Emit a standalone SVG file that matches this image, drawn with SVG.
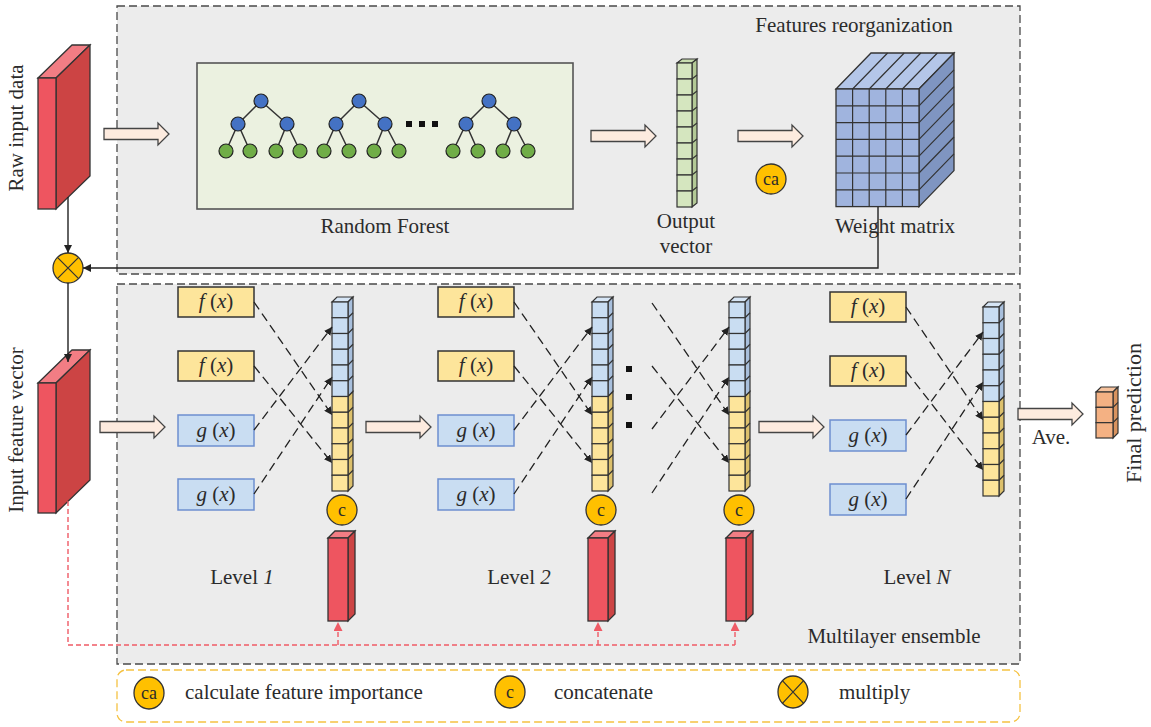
<svg xmlns="http://www.w3.org/2000/svg" xmlns:xlink="http://www.w3.org/1999/xlink" width="1151" height="727" viewBox="0 0 1151 727">
<style>
text{font-family:"Liberation Serif","DejaVu Serif",serif;fill:#2b2b2b;font-size:21px}
.mid{text-anchor:middle}
.i{font-style:italic}
.panel{fill:#ececec;stroke:#4a4a4a;stroke-width:1.3;stroke-dasharray:8 4}
.legend{fill:none;stroke:#f5c242;stroke-width:1.3;stroke-dasharray:8 4}
.barrow{fill:#fdebdf;stroke:#444;stroke-width:1.3}
.ybox{fill:#fde59b;stroke:#333;stroke-width:1.5}
.bbox{fill:#c9ddf2;stroke:#6d8fcf;stroke-width:1.5}
.dash{fill:none;stroke:#222;stroke-width:1.3;stroke-dasharray:9 5}
.solid{fill:none;stroke:#222;stroke-width:1.4}
.rdash{fill:none;stroke:#ef5b66;stroke-width:1.4;stroke-dasharray:5 3}
.ed{stroke:#333;stroke-width:1.5}
.bn{fill:#4472c4;stroke:#222;stroke-width:1.2}
.gn{fill:#70ad47;stroke:#222;stroke-width:1.2}
.gold{fill:#ffc000;stroke:#333;stroke-width:1.3}
.cb{fill:#c9ddf2;stroke:#333;stroke-width:1.2}
.cy{fill:#fde59b;stroke:#333;stroke-width:1.2}
.cl{stroke:#333;stroke-width:1.2}
.rf{fill:#ee5560;stroke:#333;stroke-width:1.3}
.rt{fill:#f27d84;stroke:#333;stroke-width:1.3}
.rs{fill:#cc4444;stroke:#333;stroke-width:1.3}
.fx{font-size:21px}
.sm{font-size:18px}
</style>
<defs>
<marker id="ah" viewBox="0 0 10 10" refX="10" refY="5" markerWidth="8" markerHeight="8" markerUnits="userSpaceOnUse" orient="auto"><path d="M0,0 L10,5 L0,10 Z" fill="#222"/></marker>
<marker id="rah" viewBox="0 0 10 10" refX="10" refY="5" markerWidth="9" markerHeight="9" markerUnits="userSpaceOnUse" orient="auto"><path d="M0,0 L10,5 L0,10 Z" fill="#ef5b66"/></marker>
<g id="colvec">
<polygon points="0,0 5,-5 21,-5 16,0" fill="#d6e5f5" stroke="#333" stroke-width="1.2"/>
<polygon points="16,0 21,-5 21,89.5 16,94.5" fill="#a8bfdc" stroke="#333" stroke-width="1.2"/>
<polygon points="16,94.5 21,89.5 21,184 16,189" fill="#dcc06c" stroke="#333" stroke-width="1.2"/>
<rect class="cb" x="0" y="0" width="16" height="15.75"/>
<rect class="cb" x="0" y="15.75" width="16" height="15.75"/>
<rect class="cb" x="0" y="31.5" width="16" height="15.75"/>
<rect class="cb" x="0" y="47.25" width="16" height="15.75"/>
<rect class="cb" x="0" y="63" width="16" height="15.75"/>
<rect class="cb" x="0" y="78.75" width="16" height="15.75"/>
<rect class="cy" x="0" y="94.5" width="16" height="15.75"/>
<rect class="cy" x="0" y="110.25" width="16" height="15.75"/>
<rect class="cy" x="0" y="126" width="16" height="15.75"/>
<rect class="cy" x="0" y="141.75" width="16" height="15.75"/>
<rect class="cy" x="0" y="157.5" width="16" height="15.75"/>
<rect class="cy" x="0" y="173.25" width="16" height="15.75"/>
<path class="cl" d="M16,15.75 l5,-5 M16,31.5 l5,-5 M16,47.25 l5,-5 M16,63 l5,-5 M16,78.75 l5,-5 M16,110.25 l5,-5 M16,126 l5,-5 M16,141.75 l5,-5 M16,157.5 l5,-5 M16,173.25 l5,-5"/>
</g>
<g id="redbar">
<polygon class="rt" points="0,0 7,-7 27,-7 20,0"/>
<polygon class="rs" points="20,0 27,-7 27,76 20,83"/>
<rect class="rf" x="0" y="0" width="20" height="83"/>
</g>
<path id="blk" d="M0,-5.5 H54 V-11 L65,0 L54,11 V5.5 H0 Z"/>
</defs>

<rect width="1151" height="727" fill="#ffffff"/>

<g id="panel-top"><rect class="panel" x="117" y="6" width="903" height="268"/>
<text class="mid" x="854" y="32">Features reorganization</text></g>
<g id="panel-bottom"><rect class="panel" x="117" y="284" width="903" height="380"/>
<text class="mid" x="894" y="643">Multilayer ensemble</text></g>

<g id="raw-input">
<polygon class="rt" points="38,78 72,45 90,45 56,78"/>
<polygon class="rs" points="56,78 90,45 90,176 56,209"/>
<rect class="rf" x="38" y="78" width="18" height="131"/>
<text class="mid" transform="translate(23,128) rotate(-90)">Raw input data</text>
</g>

<g id="random-forest">
<rect x="197" y="63" width="376" height="146" fill="#ebf1e0" stroke="#555" stroke-width="1.6"/>
<path class="ed" d="M261,101 L238,124 M261,101 L287,124 M238,124 L226,151 M238,124 L250,151 M287,124 L276,151 M287,124 L300,151
M359,101 L336,124 M359,101 L385,124 M336,124 L324,151 M336,124 L349,151 M385,124 L374,151 M385,124 L399,151
M489,101 L466,124 M489,101 L514,124 M466,124 L453,151 M466,124 L478,151 M514,124 L503,151 M514,124 L528,151"/>
<circle class="bn" cx="261" cy="101" r="7"/><circle class="bn" cx="238" cy="124" r="7"/><circle class="bn" cx="287" cy="124" r="7"/>
<circle class="gn" cx="226" cy="151" r="7"/><circle class="gn" cx="250" cy="151" r="7"/><circle class="gn" cx="276" cy="151" r="7"/><circle class="gn" cx="300" cy="151" r="7"/>
<circle class="bn" cx="359" cy="101" r="7"/><circle class="bn" cx="336" cy="124" r="7"/><circle class="bn" cx="385" cy="124" r="7"/>
<circle class="gn" cx="324" cy="151" r="7"/><circle class="gn" cx="349" cy="151" r="7"/><circle class="gn" cx="374" cy="151" r="7"/><circle class="gn" cx="399" cy="151" r="7"/>
<circle class="bn" cx="489" cy="101" r="7"/><circle class="bn" cx="466" cy="124" r="7"/><circle class="bn" cx="514" cy="124" r="7"/>
<circle class="gn" cx="453" cy="151" r="7"/><circle class="gn" cx="478" cy="151" r="7"/><circle class="gn" cx="503" cy="151" r="7"/><circle class="gn" cx="528" cy="151" r="7"/>
<rect x="406" y="121" width="6" height="6" fill="#111"/><rect x="419" y="121" width="6" height="6" fill="#111"/><rect x="432" y="121" width="6" height="6" fill="#111"/>
<text class="mid" x="385" y="233">Random Forest</text>
</g>

<g id="output-vector">
<polygon points="677,63 682,59 697,59 692,63" fill="#c8ddaf" stroke="#333" stroke-width="1.2"/>
<polygon points="692,63 697,59 697,203 692,207" fill="#b3c996" stroke="#333" stroke-width="1.2"/>
<g fill="#d5e6bf" stroke="#333" stroke-width="1.2">
<rect x="677" y="63" width="15" height="16"/><rect x="677" y="79" width="15" height="16"/><rect x="677" y="95" width="15" height="16"/>
<rect x="677" y="111" width="15" height="16"/><rect x="677" y="127" width="15" height="16"/><rect x="677" y="143" width="15" height="16"/>
<rect x="677" y="159" width="15" height="16"/><rect x="677" y="175" width="15" height="16"/><rect x="677" y="191" width="15" height="16"/>
</g>
<path class="cl" d="M692,79 l5,-4 M692,95 l5,-4 M692,111 l5,-4 M692,127 l5,-4 M692,143 l5,-4 M692,159 l5,-4 M692,175 l5,-4 M692,191 l5,-4"/>
<text class="mid" x="686" y="228">Output</text>
<text class="mid" x="686" y="253">vector</text>
</g>

<g id="ca-node"><circle class="gold" cx="771" cy="179" r="15"/><text class="mid sm" x="771" y="185">ca</text></g>

<g id="weight-matrix">
<polygon points="836,89 871,53 954,53 919,89" fill="#b4c6e8" stroke="#333" stroke-width="1.3"/>
<polygon points="919,89 954,53 954,170.6 919,206.6" fill="#7f95c1" stroke="#333" stroke-width="1.3"/>
<path class="cl" d="M852.6,89 L887.6,53 M869.2,89 L904.2,53 M885.8,89 L920.8,53 M902.4,89 L937.4,53
M919,105.8 L954,69.8 M919,122.6 L954,86.6 M919,139.4 L954,103.4 M919,156.2 L954,120.2 M919,173 L954,137 M919,189.8 L954,153.8"/>
<rect x="836" y="89" width="83" height="117.6" fill="#a0b4de" stroke="#333" stroke-width="1.3"/>
<path class="cl" d="M852.6,89 V206.6 M869.2,89 V206.6 M885.8,89 V206.6 M902.4,89 V206.6
M836,105.8 H919 M836,122.6 H919 M836,139.4 H919 M836,156.2 H919 M836,173 H919 M836,189.8 H919"/>
<text class="mid" x="895" y="233">Weight matrix</text>
</g>

<g id="multiply-node"><circle class="gold" cx="68" cy="268" r="15"/><path class="cl" d="M57.4,257.4 L78.6,278.6 M78.6,257.4 L57.4,278.6"/></g>

<g id="input-feature">
<polygon class="rt" points="38,383 72,350 90,350 56,383"/>
<polygon class="rs" points="56,383 90,350 90,480 56,513"/>
<rect class="rf" x="38" y="383" width="18" height="130"/>
<text class="mid" transform="translate(23,430) rotate(-90)">Input feature vector</text>
</g>

<g id="level1">
<rect class="ybox" x="178" y="287" width="76" height="30"/><text class="mid fx" x="216" y="308"><tspan class="i">f</tspan> (<tspan class="i">x</tspan>)</text>
<rect class="ybox" x="178" y="351" width="76" height="30"/><text class="mid fx" x="216" y="372"><tspan class="i">f</tspan> (<tspan class="i">x</tspan>)</text>
<rect class="bbox" x="178" y="415" width="76" height="31"/><text class="mid fx" x="216" y="437"><tspan class="i">g</tspan> (<tspan class="i">x</tspan>)</text>
<rect class="bbox" x="178" y="479" width="76" height="31"/><text class="mid fx" x="216" y="501"><tspan class="i">g</tspan> (<tspan class="i">x</tspan>)</text>
<use xlink:href="#colvec" x="332" y="302"/>
<circle class="gold" cx="342" cy="510" r="15"/><text class="mid sm" x="342" y="516">c</text>
<use xlink:href="#redbar" x="328" y="538"/>
<text class="mid" x="242" y="584">Level <tspan class="i">1</tspan></text>
</g>

<g id="level2">
<rect class="ybox" x="438" y="287" width="76" height="30"/><text class="mid fx" x="476" y="308"><tspan class="i">f</tspan> (<tspan class="i">x</tspan>)</text>
<rect class="ybox" x="438" y="351" width="76" height="30"/><text class="mid fx" x="476" y="372"><tspan class="i">f</tspan> (<tspan class="i">x</tspan>)</text>
<rect class="bbox" x="438" y="415" width="76" height="31"/><text class="mid fx" x="476" y="437"><tspan class="i">g</tspan> (<tspan class="i">x</tspan>)</text>
<rect class="bbox" x="438" y="479" width="76" height="31"/><text class="mid fx" x="476" y="501"><tspan class="i">g</tspan> (<tspan class="i">x</tspan>)</text>
<use xlink:href="#colvec" x="592" y="302"/>
<circle class="gold" cx="601" cy="510" r="15"/><text class="mid sm" x="601" y="516">c</text>
<use xlink:href="#redbar" x="588" y="538"/>
<text class="mid" x="519" y="584">Level <tspan class="i">2</tspan></text>
<rect x="626" y="366" width="6" height="6" fill="#111"/><rect x="626" y="394" width="6" height="6" fill="#111"/><rect x="626" y="422" width="6" height="6" fill="#111"/>
</g>

<g id="level3">
<use xlink:href="#colvec" x="729" y="302"/>
<circle class="gold" cx="739" cy="510" r="15"/><text class="mid sm" x="739" y="516">c</text>
<use xlink:href="#redbar" x="726" y="538"/>
</g>

<g id="levelN">
<rect class="ybox" x="830" y="292" width="76" height="30"/><text class="mid fx" x="868" y="313"><tspan class="i">f</tspan> (<tspan class="i">x</tspan>)</text>
<rect class="ybox" x="830" y="356" width="76" height="30"/><text class="mid fx" x="868" y="377"><tspan class="i">f</tspan> (<tspan class="i">x</tspan>)</text>
<rect class="bbox" x="830" y="420" width="76" height="31"/><text class="mid fx" x="868" y="442"><tspan class="i">g</tspan> (<tspan class="i">x</tspan>)</text>
<rect class="bbox" x="830" y="484" width="76" height="31"/><text class="mid fx" x="868" y="506"><tspan class="i">g</tspan> (<tspan class="i">x</tspan>)</text>
<use xlink:href="#colvec" x="983" y="307"/>
<text class="mid" x="917" y="584">Level <tspan class="i">N</tspan></text>
</g>

<g id="final-prediction">
<polygon points="1096,392 1101,387 1118,387 1113,392" fill="#f6c29d" stroke="#333" stroke-width="1.2"/>
<polygon points="1113,392 1118,387 1118,433 1113,438" fill="#d9935f" stroke="#333" stroke-width="1.2"/>
<g fill="#f4b183" stroke="#333" stroke-width="1.2">
<rect x="1096" y="392" width="17" height="15.33"/><rect x="1096" y="407.33" width="17" height="15.33"/><rect x="1096" y="422.67" width="17" height="15.33"/>
</g>
<path class="cl" d="M1113,407.33 l5,-5 M1113,422.67 l5,-5"/>
<text class="mid" transform="translate(1141,413) rotate(-90)" style="font-size:22px">Final prediction</text>
<text class="mid" x="1051" y="444">Ave.</text>
</g>

<g id="connectors">
<use xlink:href="#blk" class="barrow" x="104" y="134"/>
<use xlink:href="#blk" class="barrow" x="591" y="136"/>
<use xlink:href="#blk" class="barrow" x="738" y="136"/>
<use xlink:href="#blk" class="barrow" x="100" y="427"/>
<use xlink:href="#blk" class="barrow" x="366" y="427"/>
<use xlink:href="#blk" class="barrow" x="759" y="427"/>
<use xlink:href="#blk" class="barrow" x="1018" y="414"/>
<path class="solid" d="M68,197 V253" marker-end="url(#ah)"/>
<path class="solid" d="M878,207 V268 H83" marker-end="url(#ah)"/>
<path class="solid" d="M68,283 V362" marker-end="url(#ah)"/>
<path class="dash" d="M254,302 L332,415" marker-end="url(#ah)"/>
<path class="dash" d="M254,366 L332,463" marker-end="url(#ah)"/>
<path class="dash" d="M254,430 L332,327" marker-end="url(#ah)"/>
<path class="dash" d="M254,494 L332,377" marker-end="url(#ah)"/>
<path class="dash" d="M514,302 L592,415" marker-end="url(#ah)"/>
<path class="dash" d="M514,366 L592,463" marker-end="url(#ah)"/>
<path class="dash" d="M514,430 L592,327" marker-end="url(#ah)"/>
<path class="dash" d="M514,494 L592,377" marker-end="url(#ah)"/>
<path class="dash" d="M652,303 L729,415" marker-end="url(#ah)"/>
<path class="dash" d="M652,366 L729,463" marker-end="url(#ah)"/>
<path class="dash" d="M652,429 L729,327" marker-end="url(#ah)"/>
<path class="dash" d="M652,493 L729,377" marker-end="url(#ah)"/>
<path class="dash" d="M906,307 L983,420" marker-end="url(#ah)"/>
<path class="dash" d="M906,371 L983,470" marker-end="url(#ah)"/>
<path class="dash" d="M906,435 L983,332" marker-end="url(#ah)"/>
<path class="dash" d="M906,499 L983,382" marker-end="url(#ah)"/>
<path class="rdash" d="M68,501 V645 H735"/>
<path class="rdash" d="M338,645 V622" marker-end="url(#rah)"/>
<path class="rdash" d="M598,645 V622" marker-end="url(#rah)"/>
<path class="rdash" d="M735,645 V622" marker-end="url(#rah)"/>
</g>

<g id="legend">
<rect class="legend" x="117" y="670" width="903" height="52" rx="9"/>
<ellipse class="gold" cx="149" cy="693" rx="15" ry="16"/><text class="mid sm" x="149" y="699">ca</text>
<text x="185" y="699">calculate feature importance</text>
<ellipse class="gold" cx="510" cy="692" rx="15" ry="16"/><text class="mid sm" x="510" y="698">c</text>
<text x="554" y="699">concatenate</text>
<ellipse class="gold" cx="793" cy="692" rx="15" ry="16"/><path class="cl" d="M782.4,680.7 L803.6,703.3 M803.6,680.7 L782.4,703.3"/>
<text x="839" y="699">multiply</text>
</g>
</svg>
